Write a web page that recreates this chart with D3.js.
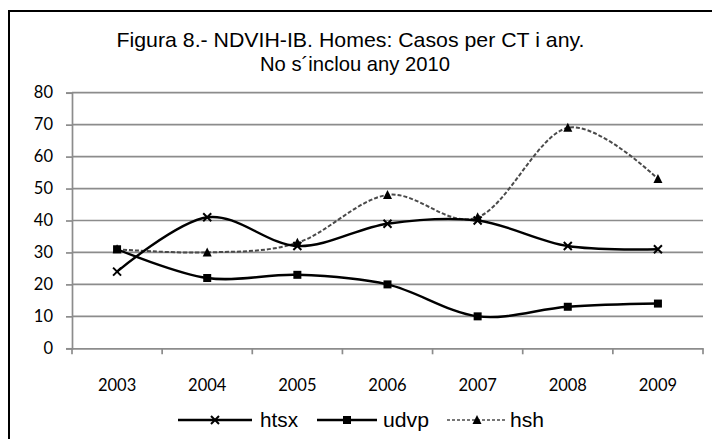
<!DOCTYPE html>
<html><head><meta charset="utf-8">
<script src="https://cdn.jsdelivr.net/npm/d3@7"></script>
<style>
html,body{margin:0;padding:0;background:#fff;}
svg{display:block;}
</style></head>
<body>
<svg id="chart" width="712" height="439"></svg>
<script>
const years = ["2003","2004","2005","2006","2007","2008","2009"];
const htsx = [24, 41, 32, 39, 40, 32, 31];
const udvp = [31, 22, 23, 20, 10, 13, 14];
const hsh  = [31, 30, 33, 48, 41, 69, 53];
const yTicks = [0,10,20,30,40,50,60,70,80];
const titleLines = ["Figura 8.- NDVIH-IB. Homes: Casos per CT i any.", "No s´inclou any 2010"];
const seriesNames = ["htsx","udvp","hsh"];

const svg = d3.select("#chart");
const W = 712, H = 439;
const m = {left:72, right:9, top:92.7, bottom:90.7};

// frame
svg.append("rect").attr("x",9).attr("y",11).attr("width",W+20).attr("height",H+20)
  .attr("fill","#fff").attr("stroke","#000").attr("stroke-width",2);

const x = d3.scaleBand().domain(years).range([m.left, W-m.right]);
const y = d3.scaleLinear().domain([0,80]).range([H-m.bottom, m.top]);

const fontAxis = "Lato, 'Open Sans', sans-serif";
const fontNarrow = "'Liberation Sans', Arial, sans-serif";

// gridlines
svg.append("g").selectAll("line").data(yTicks.filter(d=>d>0)).join("line")
  .attr("x1",m.left).attr("x2",W-m.right)
  .attr("y1",d=>y(d)).attr("y2",d=>y(d))
  .attr("stroke","#8c8c8c").attr("stroke-width",1.7);

// y axis
const yAxis = svg.append("g").attr("transform",`translate(${m.left},0)`)
  .call(d3.axisLeft(y).tickValues(yTicks).tickSize(6).tickPadding(13));
yAxis.select(".domain").attr("stroke","#8c8c8c").attr("stroke-width",1.7);
yAxis.selectAll(".tick line").attr("stroke","#8c8c8c").attr("stroke-width",1.7);
yAxis.selectAll("text").attr("font-family",fontAxis).attr("font-size",16.5).attr("fill","#000");

// x axis
const xAxis = svg.append("g").attr("transform",`translate(0,${y(0)})`)
  .call(d3.axisBottom(x).tickSize(0).tickPadding(31));
xAxis.select(".domain").attr("stroke","#8c8c8c").attr("stroke-width",1.7);
xAxis.selectAll("text").attr("font-family",fontAxis).attr("font-size",16.5).attr("fill","#000");
// category boundary ticks
const bounds = years.map(d=>x(d)).concat([x(years[years.length-1])+x.bandwidth()]);
svg.append("g").selectAll("line").data(bounds).join("line")
  .attr("x1",d=>d).attr("x2",d=>d).attr("y1",y(0)).attr("y2",y(0)+6)
  .attr("stroke","#8c8c8c").attr("stroke-width",1.7);

const cx = d => x(d) + x.bandwidth()/2;
const line = d3.line().x(d=>cx(d[0])).y(d=>y(d[1])).curve(d3.curveCardinal.tension(0));

const data = {htsx, udvp, hsh};
const styles = {
  htsx:{stroke:"#000", width:2.4, dash:null, marker:"x"},
  udvp:{stroke:"#000", width:2.4, dash:null, marker:"sq"},
  hsh:{stroke:"#4a4a4a", width:2, dash:"4,2", marker:"tri"}
};

function drawMarker(g, type, px, py){
  if(type==="x"){
    g.append("path").attr("d",`M${px-4},${py-4}L${px+4},${py+4}M${px-4},${py+4}L${px+4},${py-4}`)
      .attr("stroke","#000").attr("stroke-width",2).attr("fill","none");
  } else if(type==="sq"){
    g.append("rect").attr("x",px-4).attr("y",py-4).attr("width",8).attr("height",8).attr("fill","#000");
  } else {
    g.append("path").attr("d",`M${px},${py-5}L${px+4.5},${py+4}L${px-4.5},${py+4}Z`).attr("fill","#000");
  }
}

// draw order: hsh first (behind)
["hsh","udvp","htsx"].forEach(name=>{
  const st = styles[name];
  const pts = years.map((yr,i)=>[yr, data[name][i]]);
  const g = svg.append("g");
  g.append("path").attr("d",line(pts)).attr("fill","none")
    .attr("stroke",st.stroke).attr("stroke-width",st.width)
    .attr("stroke-dasharray",st.dash);
  pts.forEach(p=>drawMarker(g, st.marker, cx(p[0]), y(p[1])));
});

// title
const titleWidths = [468, 190];
const titleCx = [350.5, 355];
titleLines.forEach((s,i)=>{
  svg.append("text").attr("text-anchor","middle").attr("font-family",fontNarrow)
    .attr("font-size",21).attr("fill","#000")
    .attr("x",titleCx[i]).attr("y",47+i*24)
    .attr("textLength",titleWidths[i]).attr("lengthAdjust","spacingAndGlyphs")
    .text(s);
});

// legend
const legY = 420;
const legItems = [
  {name:"htsx", x1:178, x2:252, tx:260, w:38},
  {name:"udvp", x1:317, x2:377, tx:383, w:46},
  {name:"hsh",  x1:447, x2:507, tx:510, w:34}
];
const lg = svg.append("g");
legItems.forEach(it=>{
  const st = styles[it.name];
  lg.append("line").attr("x1",it.x1).attr("x2",it.x2).attr("y1",legY).attr("y2",legY)
    .attr("stroke",st.stroke).attr("stroke-width",it.name==="hsh"?1.3:2.4)
    .attr("stroke-dasharray",it.name==="hsh"?"3,2":null);
  drawMarker(lg, st.marker, (it.x1+it.x2)/2, legY);
  lg.append("text").attr("x",it.tx).attr("y",legY+7).attr("font-family",fontNarrow)
    .attr("font-size",21).attr("fill","#000")
    .attr("textLength",it.w).attr("lengthAdjust","spacingAndGlyphs").text(it.name);
});
</script>
</body></html>
